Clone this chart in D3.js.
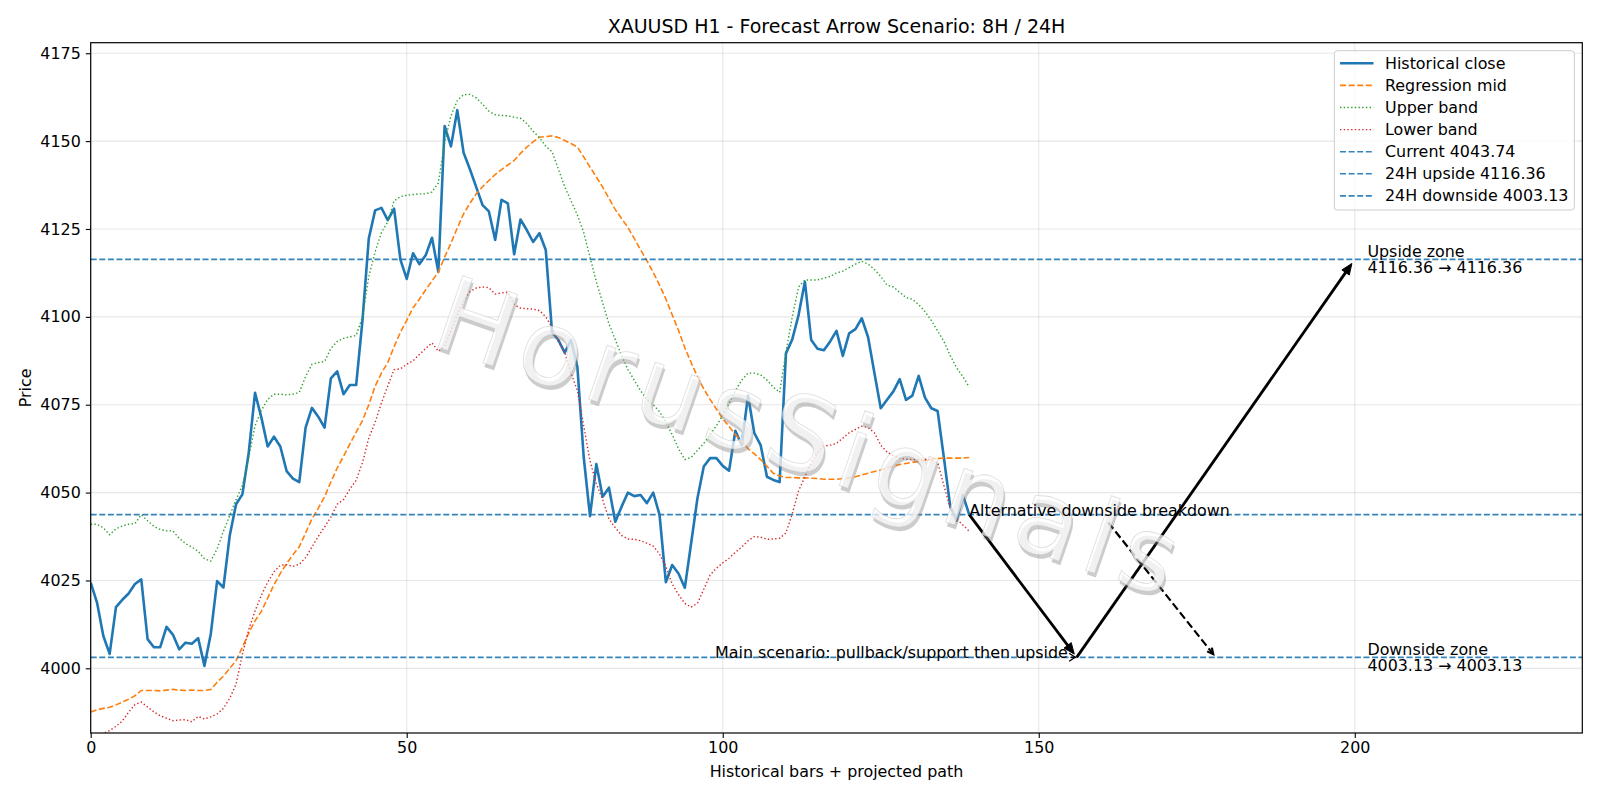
<!DOCTYPE html>
<html>
<head>
<meta charset="utf-8">
<script src="https://cdnjs.cloudflare.com/ajax/libs/d3/7.8.5/d3.min.js"></script>
<style>
  body { margin: 0; background: #fff; }
  svg { font-family: "DejaVu Sans", sans-serif; }
</style>
</head>
<body>
<div id="chart"></div>
<script>
// values, one per historical bar (x = 0..139)
var closeVals = [4024.4, 4018.7, 4009.2, 4004.1, 4017.4, 4019.5, 4021.3, 4024, 4025.3, 4008.3,
  4006, 4006, 4011.8, 4009.6, 4005.4, 4007.3, 4007, 4008.6, 4000.7, 4009.8,
  4024.8, 4023, 4037.8, 4046.7, 4049.5, 4061.3, 4078.4, 4071.4, 4063.1, 4065.9,
  4063.1, 4056.1, 4054, 4053, 4068.5, 4074.1, 4071.6, 4068.5, 4082.5, 4084.5,
  4078, 4080.6, 4080.6, 4099, 4122.3, 4130.3, 4131, 4127.5, 4130.8, 4116.3,
  4110.8, 4118.1, 4115, 4117.5, 4122.5, 4112.8, 4154.3, 4148.5, 4158.8, 4146.7,
  4142, 4136.9, 4131.8, 4130, 4121.9, 4133.3, 4132.3, 4117.8, 4127.7, 4124.7,
  4121.3, 4123.8, 4119, 4095.6, 4093.4, 4089.8, 4093.4, 4085.8, 4060.2, 4043.3,
  4058.1, 4048.8, 4051.4, 4041.7, 4046, 4050, 4049, 4049.3, 4047, 4050,
  4043.7, 4024.5, 4029.4, 4027, 4022.9, 4035.6, 4048.4, 4057.4, 4059.8, 4059.8,
  4057.6, 4056.2, 4067.6, 4063.5, 4077.6, 4066.9, 4063.5, 4054.5, 4053.6, 4053,
  4089.6, 4093.6, 4100.5, 4110, 4093.4, 4090.9, 4090.5, 4093, 4096, 4088.9,
  4095.3, 4096.5, 4099.6, 4094.2, 4084, 4074, 4076.4, 4078.8, 4082.3, 4076.4,
  4077.6, 4083.2, 4077, 4074, 4073.2, 4059.8, 4046, 4042, 4049.3, 4043.74];

var midVals = [3987.6, 3988.2, 3988.6, 3988.9, 3989.6, 3990.4, 3991.2, 3992.2, 3993.7, 3993.7,
  3993.7, 3993.6, 3993.8, 3994, 3993.8, 3993.7, 3993.8, 3993.7, 3993.7, 3994,
  3996, 3997.8, 4000, 4002.2, 4006, 4010, 4013.5, 4016.2, 4020, 4023.8,
  4027, 4029.8, 4032.3, 4034.6, 4038.5, 4042.5, 4045.5, 4048.8, 4053, 4057,
  4060.3, 4063.8, 4067.2, 4070.5, 4075, 4080.3, 4084, 4087, 4091.5, 4095.6,
  4099, 4102.6, 4105, 4107.7, 4110.2, 4112.7, 4117, 4121, 4125.3, 4129.3,
  4132.3, 4135, 4137, 4138.8, 4140.5, 4141.9, 4143.2, 4144.5, 4146.5, 4148.3,
  4149.8, 4151.1, 4151.3, 4151.5, 4151, 4150.2, 4149.3, 4148.3, 4145.5, 4142.6,
  4139.8, 4136.9, 4133.7, 4130.5, 4128, 4125.4, 4122.3, 4119.1, 4116, 4112.7,
  4109, 4105.1, 4100.6, 4096.2, 4091.2, 4087, 4083, 4079.5, 4076.5, 4073.8,
  4071, 4068.8, 4066.5, 4064.5, 4062.5, 4061, 4059.4, 4057.5, 4055.5, 4054.7,
  4054.3, 4054.3, 4054.2, 4054.2, 4054.1, 4054, 4053.8, 4053.8, 4053.8, 4054,
  4054.2, 4054.5, 4055, 4055.5, 4056, 4056.4, 4057, 4057.5, 4058, 4058.3,
  4058.6, 4058.9, 4059.2, 4059.5, 4059.7, 4059.8, 4059.8, 4059.8, 4059.8, 4060];

var upperVals = [4041, 4041, 4040, 4038, 4039.7, 4040.5, 4041, 4041.2, 4043.7, 4042,
  4040.4, 4039.5, 4039.1, 4039.1, 4037, 4035.5, 4034.5, 4033.3, 4031.2, 4030.5,
  4034, 4039, 4043.5, 4048, 4052, 4060, 4069, 4073.4, 4076.5, 4078,
  4078, 4077.8, 4078, 4078.5, 4083, 4086.5, 4087, 4087.3, 4091, 4093,
  4093.9, 4094.3, 4094.7, 4100, 4111.5, 4118.5, 4124, 4127, 4133, 4134.2,
  4134.6, 4134.8, 4135, 4135, 4135.5, 4138.1, 4149.6, 4157.2, 4161.5, 4163.2,
  4163.3, 4162.3, 4160.5, 4158.5, 4157.5, 4157.3, 4157.2, 4156.8, 4156.5, 4155,
  4152.8, 4151, 4148.5, 4147, 4142, 4137, 4133, 4129, 4124, 4117,
  4110, 4104, 4098, 4093.5, 4089, 4085, 4082, 4079, 4076.5, 4075,
  4073, 4070, 4066.5, 4062.5, 4059.4, 4060, 4062, 4064, 4066.5, 4069,
  4072, 4075.5, 4079, 4082, 4084, 4084, 4083.5, 4082, 4080, 4078.5,
  4090, 4100, 4108.5, 4110.5, 4110.5, 4110.5, 4111, 4111.5, 4112.5, 4113,
  4114, 4115, 4115.8, 4115, 4113.5, 4111.5, 4109, 4108.5, 4107, 4105.5,
  4105, 4103.5, 4101.5, 4099, 4096, 4093, 4089, 4085.5, 4083, 4080];

var lowerVals = [3980.5, 3981, 3981.5, 3982.3, 3983.5, 3985, 3987.5, 3989.7, 3990.4, 3989,
  3987.6, 3986.5, 3985.8, 3985.1, 3985.3, 3985.4, 3984.8, 3986.3, 3985.6, 3986.2,
  3987, 3988.6, 3991.5, 3995.5, 4004, 4011, 4016.3, 4020.8, 4024.5, 4027.5,
  4029.3, 4029.5, 4029, 4029.6, 4031.5, 4034.5, 4037.5, 4040.2, 4043, 4046.7,
  4048, 4051, 4053.5, 4058.5, 4065.5, 4070, 4075.5, 4080.3, 4085, 4085.2,
  4086.5, 4087.5, 4089.3, 4091, 4092.6, 4090.2, 4091.7, 4096, 4100.5, 4104.5,
  4107.2, 4108.2, 4108.5, 4108.3, 4106.5, 4106.8, 4107, 4103.5, 4102.5, 4102.3,
  4102.2, 4101.8, 4100, 4097, 4093, 4089.9, 4084, 4079, 4069, 4059,
  4052.5, 4048, 4042.5, 4040, 4037.8, 4036.8, 4036.7, 4036.3, 4035.6, 4034.8,
  4032.5, 4029, 4024, 4021, 4018.5, 4017.4, 4018.5, 4022.5, 4026.5, 4028.5,
  4030, 4031.3, 4033, 4034.5, 4036.3, 4037.5, 4037.3, 4036.7, 4036.8, 4037,
  4038.5, 4044, 4050.5, 4054.5, 4058.5, 4061.5, 4063.2, 4063.5, 4064, 4065.5,
  4067, 4068, 4068.9, 4068.5, 4067, 4063.5, 4061.5, 4060.5, 4059.8, 4059.5,
  4059.4, 4059.4, 4059.5, 4059.2, 4058.6, 4052, 4045.5, 4042.5, 4040.8, 4039];

var currentLevel = 4043.74;
var upsideLevel = 4116.36;
var downsideLevel = 4003.13;

// projected scenario points [bar, price]
var mainPath = [[139, 4043.74], [156, 4003.13], [200, 4116.36]];
var altPath = [[161, 4041.5], [178, 4003.13]];

var xTicks = [0, 50, 100, 150, 200];
var yTicks = [4000, 4025, 4050, 4075, 4100, 4125, 4150, 4175];

var legendLabels = ["Historical close", "Regression mid", "Upper band", "Lower band",
  "Current 4043.74", "24H upside 4116.36", "24H downside 4003.13"];

var width = 1600, height = 800;
var margin = {top: 42.7, right: 17.7, bottom: 67, left: 90.7};
var blue = "#1f77b4";
var fs = "15.9px";

var svg = d3.select("#chart").append("svg")
    .attr("width", width)
    .attr("height", height);

var x = d3.scaleLinear().domain([0, 236]).range([margin.left, width - margin.right]);
var y = d3.scaleLinear().domain([3981.6, 4178]).range([height - margin.bottom, margin.top]);

svg.append("defs").append("clipPath").attr("id", "plotClip")
  .append("rect")
    .attr("x", margin.left).attr("y", margin.top)
    .attr("width", width - margin.left - margin.right)
    .attr("height", height - margin.top - margin.bottom);

// grid
var grid = svg.append("g").attr("stroke", "#b0b0b0").attr("stroke-opacity", 0.3).attr("stroke-width", 1.1);
grid.selectAll(".gx").data(xTicks).enter().append("line")
    .attr("x1", d => x(d)).attr("x2", d => x(d))
    .attr("y1", margin.top).attr("y2", height - margin.bottom);
grid.selectAll(".gy").data(yTicks).enter().append("line")
    .attr("x1", margin.left).attr("x2", width - margin.right)
    .attr("y1", d => y(d)).attr("y2", d => y(d));

var plot = svg.append("g").attr("clip-path", "url(#plotClip)");

var line = d3.line().x((d, i) => x(i)).y(d => y(d));

plot.append("path").datum(closeVals)
    .attr("fill", "none").attr("stroke", blue).attr("stroke-width", 2.6)
    .attr("stroke-linejoin", "round")
    .attr("d", line);

plot.append("path").datum(midVals)
    .attr("fill", "none").attr("stroke", "#ff7f0e").attr("stroke-width", 1.6)
    .attr("stroke-dasharray", "6,2.6")
    .attr("d", line);

plot.append("path").datum(upperVals)
    .attr("fill", "none").attr("stroke", "#2ca02c").attr("stroke-width", 1.4)
    .attr("stroke-dasharray", "1.4,2.3")
    .attr("d", line);

plot.append("path").datum(lowerVals)
    .attr("fill", "none").attr("stroke", "#d62728").attr("stroke-width", 1.4)
    .attr("stroke-dasharray", "1.4,2.3")
    .attr("d", line);

// level lines
plot.selectAll(".level").data([currentLevel, upsideLevel, downsideLevel]).enter().append("line")
    .attr("x1", margin.left).attr("x2", width - margin.right)
    .attr("y1", d => y(d)).attr("y2", d => y(d))
    .attr("stroke", blue).attr("stroke-width", 1.6).attr("stroke-opacity", 0.9)
    .attr("stroke-dasharray", "6,2.6");

// arrows
function arrow(g, p0, p1, opts) {
  var x0 = x(p0[0]), y0 = y(p0[1]), x1 = x(p1[0]), y1 = y(p1[1]);
  var dx = x1 - x0, dy = y1 - y0, len = Math.sqrt(dx * dx + dy * dy);
  var ux = dx / len, uy = dy / len;
  var tx = x1 - ux * opts.shrink, ty = y1 - uy * opts.shrink;
  var hl = opts.head, hw = opts.headW;
  var bx = tx - ux * hl, by = ty - uy * hl;
  g.append("line")
      .attr("x1", x0).attr("y1", y0).attr("x2", opts.filled ? bx + ux * 2 : tx).attr("y2", opts.filled ? by + uy * 2 : ty)
      .attr("stroke", "#000").attr("stroke-width", opts.lw)
      .attr("stroke-dasharray", opts.dash || null);
  var pts = [[bx - uy * hw, by + ux * hw], [tx, ty], [bx + uy * hw, by - ux * hw]];
  if (opts.filled) {
    g.append("path").attr("d", "M" + pts.join("L") + "Z").attr("fill", "#000")
        .attr("stroke", "#000").attr("stroke-width", 1).attr("stroke-linejoin", "miter");
  } else {
    g.append("path").attr("d", "M" + pts.join("L")).attr("fill", "none")
        .attr("stroke", "#000").attr("stroke-width", opts.lw);
  }
}

var arrows = svg.append("g");
arrow(arrows, mainPath[0], mainPath[1], {shrink: 4, head: 11, headW: 4.5, lw: 2.8, filled: true});
arrow(arrows, mainPath[1], mainPath[2], {shrink: 5, head: 11, headW: 4.5, lw: 2.8, filled: true});
arrow(arrows, altPath[0], altPath[1], {shrink: 4, head: 6, headW: 3, lw: 2.2, dash: "8,3.5"});
// small arrowhead under the main scenario label
arrow(arrows, [155, downsideLevel], mainPath[1], {shrink: 1.5, head: 6, headW: 4, lw: 1.3});

// watermark: white letters over a grey offset shadow
var wm = svg.append("g").attr("transform", "translate(812,438) rotate(19)");
[{dx: 2.5, dy: 3.5, fill: "#808080", op: 0.4}, {dx: 0, dy: 0, fill: "#ffffff", op: 0.72}].forEach(function(s, k) {
  var t = wm.append("text")
      .attr("x", s.dx).attr("y", s.dy)
      .attr("text-anchor", "middle").attr("dominant-baseline", "central")
      .attr("font-size", "104px").attr("letter-spacing", "9px")
      .attr("fill", s.fill).attr("fill-opacity", s.op)
      .text("HorusSignals");
  if (k == 1) t.attr("stroke", "#bdbdbd").attr("stroke-opacity", 0.5).attr("stroke-width", 0.8);
});

// annotation texts
var notes = svg.append("g").attr("font-size", fs).attr("fill", "#000");
notes.append("text")
    .attr("x", x(mainPath[0][0])).attr("y", y(currentLevel) + 1)
    .text("Alternative downside breakdown");
notes.append("text")
    .attr("x", x(154.6)).attr("y", y(downsideLevel) + 0.5)
    .attr("text-anchor", "end")
    .text("Main scenario: pullback/support then upside");

function zoneText(level, title) {
  notes.append("text").attr("x", x(202)).attr("y", y(level) - 8.3)
      .attr("dominant-baseline", "central").text(title);
  notes.append("text").attr("x", x(202)).attr("y", y(level) + 8.3)
      .attr("dominant-baseline", "central")
      .text(level.toFixed(2) + " \u2192 " + level.toFixed(2));
}
zoneText(upsideLevel, "Upside zone");
zoneText(downsideLevel, "Downside zone");

// axes
var xAxis = d3.axisBottom(x).tickValues(xTicks).tickSize(4.9).tickPadding(4).tickFormat(d3.format("d"));
var yAxis = d3.axisLeft(y).tickValues(yTicks).tickSize(4.9).tickPadding(5).tickFormat(d3.format("d"));

var gx = svg.append("g").attr("transform", "translate(0," + (height - margin.bottom) + ")").call(xAxis);
var gy = svg.append("g").attr("transform", "translate(" + margin.left + ",0)").call(yAxis);
[gx, gy].forEach(function(g) {
  g.select(".domain").remove();
  g.selectAll(".tick line").attr("stroke", "#000").attr("stroke-width", 1.1);
  g.selectAll(".tick text").attr("font-size", fs).attr("fill", "#000")
      .attr("font-family", "DejaVu Sans");
});

svg.append("rect")
    .attr("x", margin.left).attr("y", margin.top)
    .attr("width", width - margin.left - margin.right)
    .attr("height", height - margin.top - margin.bottom)
    .attr("fill", "none").attr("stroke", "#000").attr("stroke-width", 1.2);

// labels
svg.append("text")
    .attr("x", (margin.left + width - margin.right) / 2).attr("y", 25.5)
    .attr("text-anchor", "middle").attr("dominant-baseline", "central")
    .attr("font-size", "19px")
    .text("XAUUSD H1 - Forecast Arrow Scenario: 8H / 24H");
svg.append("text")
    .attr("x", (margin.left + width - margin.right) / 2).attr("y", 771.5)
    .attr("text-anchor", "middle").attr("dominant-baseline", "central")
    .attr("font-size", fs)
    .text("Historical bars + projected path");
svg.append("text")
    .attr("transform", "translate(25.5," + ((margin.top + height - margin.bottom) / 2) + ") rotate(-90)")
    .attr("text-anchor", "middle").attr("dominant-baseline", "central")
    .attr("font-size", fs)
    .text("Price");

// legend
var legendStyles = [
  {color: blue, dash: null, w: 2.6},
  {color: "#ff7f0e", dash: "6,2.6", w: 1.6},
  {color: "#2ca02c", dash: "1.4,2.3", w: 1.4},
  {color: "#d62728", dash: "1.4,2.3", w: 1.4},
  {color: blue, dash: "6,2.6", w: 1.6},
  {color: blue, dash: "6,2.6", w: 1.6},
  {color: blue, dash: "6,2.6", w: 1.6}
];
var legend = svg.append("g");
legend.append("rect")
    .attr("x", 1334.3).attr("y", 50.7).attr("width", 240).attr("height", 159.3)
    .attr("rx", 3).attr("fill", "#fff").attr("fill-opacity", 0.8)
    .attr("stroke", "#cccccc").attr("stroke-width", 1);
var items = legend.selectAll(".item").data(legendLabels).enter().append("g")
    .attr("transform", (d, i) => "translate(0," + (63.3 + i * 22.1) + ")");
items.append("line")
    .attr("x1", 1340).attr("x2", 1373.5).attr("y1", 0).attr("y2", 0)
    .attr("stroke", (d, i) => legendStyles[i].color)
    .attr("stroke-width", (d, i) => legendStyles[i].w)
    .attr("stroke-opacity", (d, i) => i >= 4 ? 0.9 : 1)
    .attr("stroke-dasharray", (d, i) => legendStyles[i].dash);
items.append("text")
    .attr("x", 1385).attr("y", 0)
    .attr("dominant-baseline", "central")
    .attr("font-size", fs)
    .text(d => d);
</script>
</body>
</html>
